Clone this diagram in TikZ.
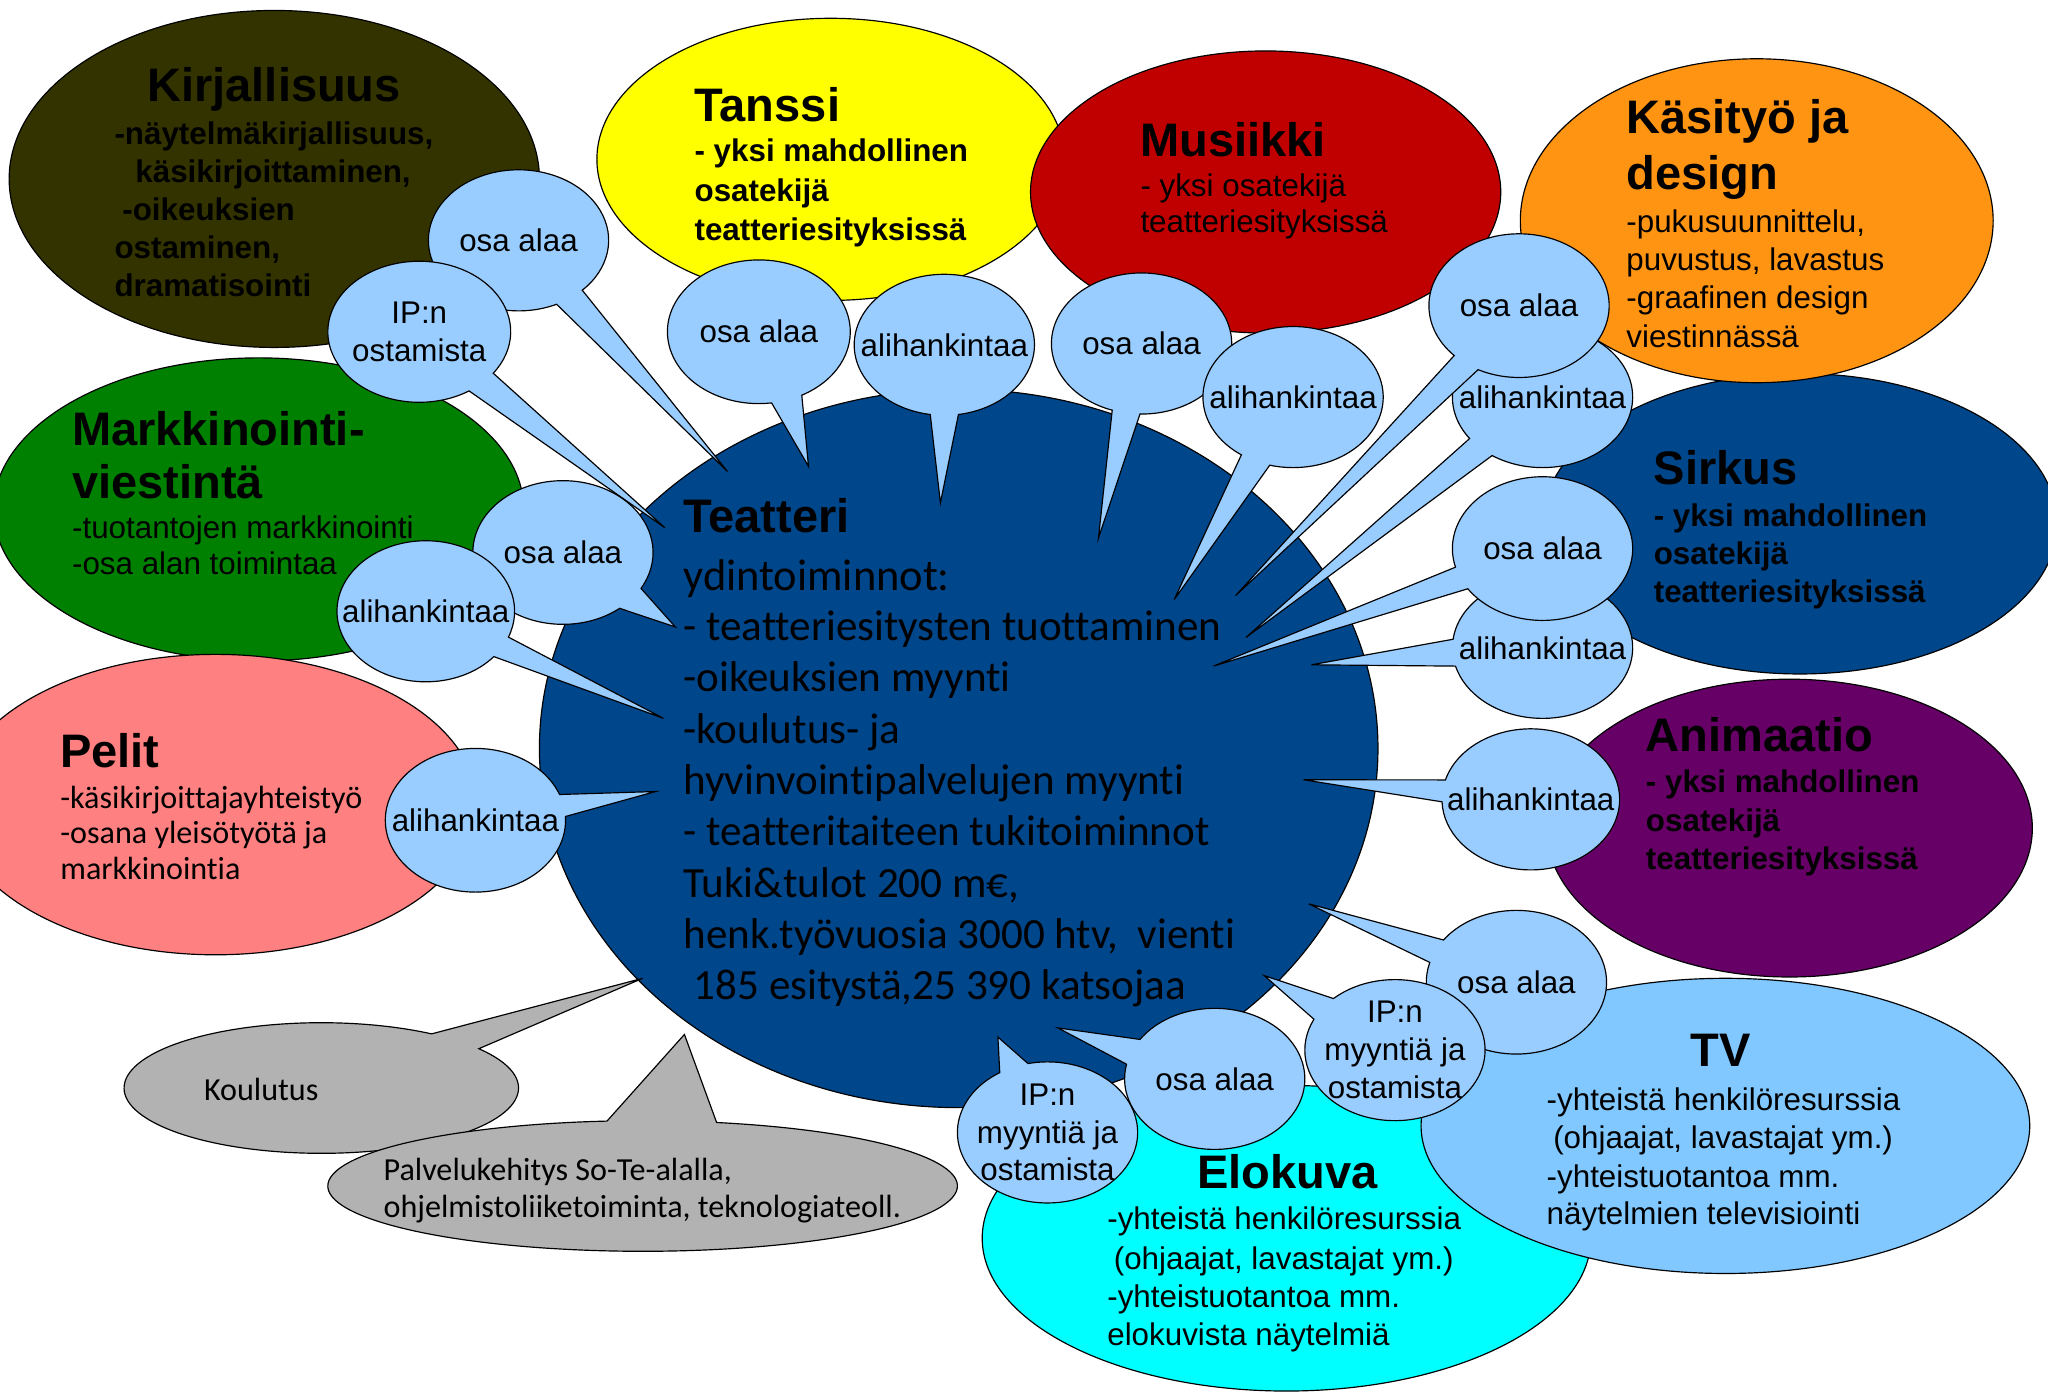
\documentclass[tikz,border=0pt]{standalone}
\usepackage{fontspec}
\setmainfont{Liberation Sans}
\newfontfamily\calfont[Ligatures=NoCommon]{Carlito}
\usetikzlibrary{calc}
\definecolor{olivek}{HTML}{333300}
\definecolor{tanssiy}{HTML}{FFFF00}
\definecolor{musred}{HTML}{C00000}
\definecolor{kasor}{HTML}{FF9412}
\definecolor{teatblue}{HTML}{00468A}
\definecolor{animp}{HTML}{660066}
\definecolor{tvblue}{HTML}{80C8FF}
\definecolor{elocyan}{HTML}{00FFFF}
\definecolor{markg}{HTML}{008000}
\definecolor{pelitr}{HTML}{FF8080}
\definecolor{bubblue}{HTML}{99CCFF}
\definecolor{grayc}{HTML}{B2B2B2}
\newcommand\callout[9]{%
  \coordinate (#1c) at (#2,#3);
  \coordinate (#1t) at (#8,#9);
  \draw[outl,cfill] ($(#1c)+(#6:#4 and #5)$) -- (#1t) -- ($(#1c)+(#7:#4 and #5)$)
     arc[start angle=#7, end angle={#6+360}, x radius=#4, y radius=#5] -- cycle;
}
\begin{document}
\begin{tikzpicture}[x=1pt,y=-1pt,
  outl/.style={draw=black, line width=0.9pt},
  cfill/.style={fill=bubblue},
  ttl/.style={anchor=base west, inner sep=0pt, font=\fontsize{36}{43}\selectfont\bfseries},
  subb/.style={anchor=base west, inner sep=0pt, font=\fontsize{24}{29}\selectfont\bfseries},
  subr/.style={anchor=base west, inner sep=0pt, font=\fontsize{24}{29}\selectfont},
  calr/.style={anchor=base west, inner sep=0pt, font=\calfont\fontsize{24.6}{29}\selectfont},
  bodyt/.style={anchor=base west, inner sep=0pt, font=\calfont\fontsize{33}{39}\selectfont},
  btext/.style={align=center, inner sep=0pt, font=\fontsize{24}{29}\selectfont},
]
\useasboundingbox (0,0) rectangle (1568,1066);
\fill[white] (0,0) rectangle (1568,1066);

% big ellipses
\draw[outl,fill=tanssiy] (636,122) ellipse [x radius=179, y radius=108];
\draw[outl,fill=musred] (969,147) ellipse [x radius=180, y radius=108];
\draw[outl,fill=olivek] (210,137) ellipse [x radius=203, y radius=129];
\draw[outl,fill=teatblue] (1378,401) ellipse [x radius=197, y radius=115];
\draw[outl,fill=kasor] (1345,169) ellipse [x radius=181, y radius=124];
\draw[outl,fill=markg] (198,390) ellipse [x radius=203, y radius=116];
\draw[outl,fill=pelitr] (165,616) ellipse [x radius=200, y radius=115];
\draw[outl,fill=animp] (1370,634) ellipse [x radius=186, y radius=114];
\draw[outl,fill=elocyan] (985,948) ellipse [x radius=233, y radius=117];
\draw[outl,fill=tvblue] (1321,862) ellipse [x radius=233, y radius=113];
\draw[outl,fill=teatblue] (734,573) ellipse [x radius=321, y radius=275];

% gray callouts
\begin{scope}[cfill/.style={fill=grayc}]
\callout{kou}{246}{833}{151}{50}{304}{323}{492}{749}
\callout{pal}{492}{908}{241}{50}{263.5}{283.6}{524}{792}
\end{scope}

% small bubbles
\callout{ka}{397}{184}{69}{54}{45}{65}{557}{361}
\callout{kb}{321}{254}{70}{54}{36}{57}{509}{404}
\callout{ma}{431}{423}{69}{55}{30}{51}{517}{480}
\callout{mb}{326}{468}{68}{54}{21.5}{40}{508}{550}
\callout{pa}{364}{628}{69}{55}{-21}{-3}{502}{606}
\callout{ta}{581}{254}{70}{55}{62}{82}{619}{357}
\callout{tb}{723}{264}{69}{54}{81}{99}{720}{385}
\callout{mua}{874}{263}{69}{54}{91}{109}{841}{412}
\callout{mub}{990}{304}{69}{54}{105}{125}{899}{459}
\callout{kab}{1181}{304}{69}{54}{124}{144}{954}{488}
\callout{kaa}{1163}{234}{69}{55}{117}{136}{946}{456}
\callout{sb}{1181}{496}{69}{54}{165}{187}{1004}{509}
\callout{sa}{1181}{420}{69}{55}{146}{165}{929}{510}
\callout{aa}{1172}{612}{68}{54}{178}{196}{998}{597}
\callout{tva}{1161}{752}{69}{55}{196}{216}{1002}{692}
\callout{tvb}{1068}{804}{69}{54}{206}{227}{968}{747}
\callout{eb}{802}{867}{69}{54}{238}{257.5}{764}{794}
\callout{ea}{930}{826}{69}{54}{192}{214}{810}{787}

% bubble texts
\node[btext] (kax) at (kac) {osa alaa};
\node[btext] (kbx) at (kbc) {IP:n\\ostamista};
\node[btext] (max) at (mac) {osa alaa};
\node[btext] (mbx) at (mbc) {alihankintaa};
\node[btext] (pax) at (pac) {alihankintaa};
\node[btext] (tax) at (tac) {osa alaa};
\node[btext] (tbx) at (tbc) {alihankintaa};
\node[btext] (muax) at (muac) {osa alaa};
\node[btext] (mubx) at (mubc) {alihankintaa};
\node[btext] (kaax) at (kaac) {osa alaa};
\node[btext] (kabx) at (kabc) {alihankintaa};
\node[btext] (sax) at (sac) {osa alaa};
\node[btext] (sbx) at (sbc) {alihankintaa};
\node[btext] (aax) at (aac) {alihankintaa};
\node[btext] (tvax) at (tvac) {osa alaa};
\node[btext] (tvbx) at (tvbc) {IP:n\\myyntiä ja\\ostamista};
\node[btext] (eax) at (eac) {osa alaa};
\node[btext] (ebx) at (ebc) {IP:n\\myyntiä ja\\ostamista};

% Kirjallisuus
\node[ttl] (kir0) at (112.6,78) {Kirjallisuus};
\node[subb] (kir1) at (87.5,111) {-näytelmäkirjallisuus,};
\node[subb] (kir2) at (103.5,140) {käsikirjoittaminen,};
\node[subb] (kir3) at (93.5,169) {-oikeuksien};
\node[subb] (kir4) at (87.5,198) {ostaminen,};
\node[subb] (kir5) at (87.5,227) {dramatisointi};

% Tanssi
\node[ttl] (tan0) at (531.6,93) {Tanssi};
\node[subb] (tan1) at (531.6,124) {- yksi mahdollinen};
\node[subb] (tan2) at (531.6,154) {osatekijä};
\node[subb] (tan3) at (531.6,184) {teatteriesityksissä};

% Musiikki
\node[ttl] (mus0) at (873,119.6) {Musiikki};
\node[subr] (mus1) at (873,150.4) {- yksi osatekijä};
\node[subr] (mus2) at (873,178) {teatteriesityksissä};

% Kasityo
\node[ttl] (kas0) at (1245,102) {Käsityö ja};
\node[ttl] (kas1) at (1245,145) {design};
\node[subr] (kas2) at (1245,178) {-pukusuunnittelu,};
\node[subr] (kas3) at (1245,207) {puvustus, lavastus};
\node[subr] (kas4) at (1245,236) {-graafinen design};
\node[subr] (kas5) at (1245,266) {viestinnässä};

% Sirkus
\node[ttl] (sir0) at (1266,371) {Sirkus};
\node[subb] (sir1) at (1266,403) {- yksi mahdollinen};
\node[subb] (sir2) at (1266,432.3) {osatekijä};
\node[subb] (sir3) at (1266,461.6) {teatteriesityksissä};

% Animaatio
\node[ttl] (ani0) at (1260,575) {Animaatio};
\node[subb] (ani1) at (1260,607) {- yksi mahdollinen};
\node[subb] (ani2) at (1260,636.3) {osatekijä};
\node[subb] (ani3) at (1260,665.6) {teatteriesityksissä};

% TV
\node[ttl] (tv0) at (1294,816.6) {TV};
\node[subr] (tv1) at (1184,850) {-yhteistä henkilöresurssia};
\node[subr] (tv2) at (1189,879.5) {(ohjaajat, lavastajat ym.)};
\node[subr] (tv3) at (1184,909) {-yhteistuotantoa mm.};
\node[subr] (tv4) at (1184,937.5) {näytelmien televisiointi};

% Elokuva
\node[ttl] (elo0) at (916.5,910) {Elokuva};
\node[subr] (elo1) at (847.6,941.7) {-yhteistä henkilöresurssia};
\node[subr] (elo2) at (852.6,972) {(ohjaajat, lavastajat ym.)};
\node[subr] (elo3) at (847.6,1001.3) {-yhteistuotantoa mm.};
\node[subr] (elo4) at (847.6,1030.3) {elokuvista näytelmiä};

% Markkinointi
\node[ttl] (mar0) at (55,341) {Markkinointi-};
\node[ttl] (mar1) at (55,382) {viestintä};
\node[subr] (mar2) at (55,412) {-tuotantojen markkinointi};
\node[subr] (mar3) at (55,439.5) {-osa alan toimintaa};

% Pelit
\node[ttl] (pel0) at (46,587.6) {Pelit};
\node[calr] (pel1) at (46,619) {-käsikirjoittajayhteistyö};
\node[calr] (pel2) at (46,646) {-osana yleisötyötä ja};
\node[calr] (pel3) at (46,673.5) {markkinointia};

% gray texts
\node[calr] (kou0) at (156,842.6) {Koulutus};
\node[calr] (pal0) at (293.5,903.6) {Palvelukehitys So-Te-alalla,};
\node[calr] (pal1) at (293.5,932) {ohjelmistoliiketoiminta, teknologiateoll.};

% Teatteri
\node[ttl] (tea0) at (523,408) {Teatteri};
\node[anchor=base west, inner sep=0pt, font=\calfont\fontsize{34}{40}\selectfont] (tea1) at (523,452) {ydintoiminnot:};
\node[bodyt] (tea2) at (523,490.5) {- teatteriesitysten tuottaminen};
\node[bodyt] (tea3) at (523,529.8) {-oikeuksien myynti};
\node[bodyt] (tea4) at (523,569.1) {-koulutus- ja};
\node[bodyt] (tea5) at (523,608.4) {hyvinvointipalvelujen myynti};
\node[bodyt] (tea6) at (523,647.7) {- teatteritaiteen tukitoiminnot};
\node[bodyt] (tea7) at (523,687) {Tuki\&tulot 200 m€,};
\node[bodyt] (tea8) at (523,726.3) {henk.työvuosia 3000 htv,\ \ vienti};
\node[bodyt] (tea9) at (531,765.6) {185 esitystä,25 390 katsojaa};
\end{tikzpicture}
\end{document}
